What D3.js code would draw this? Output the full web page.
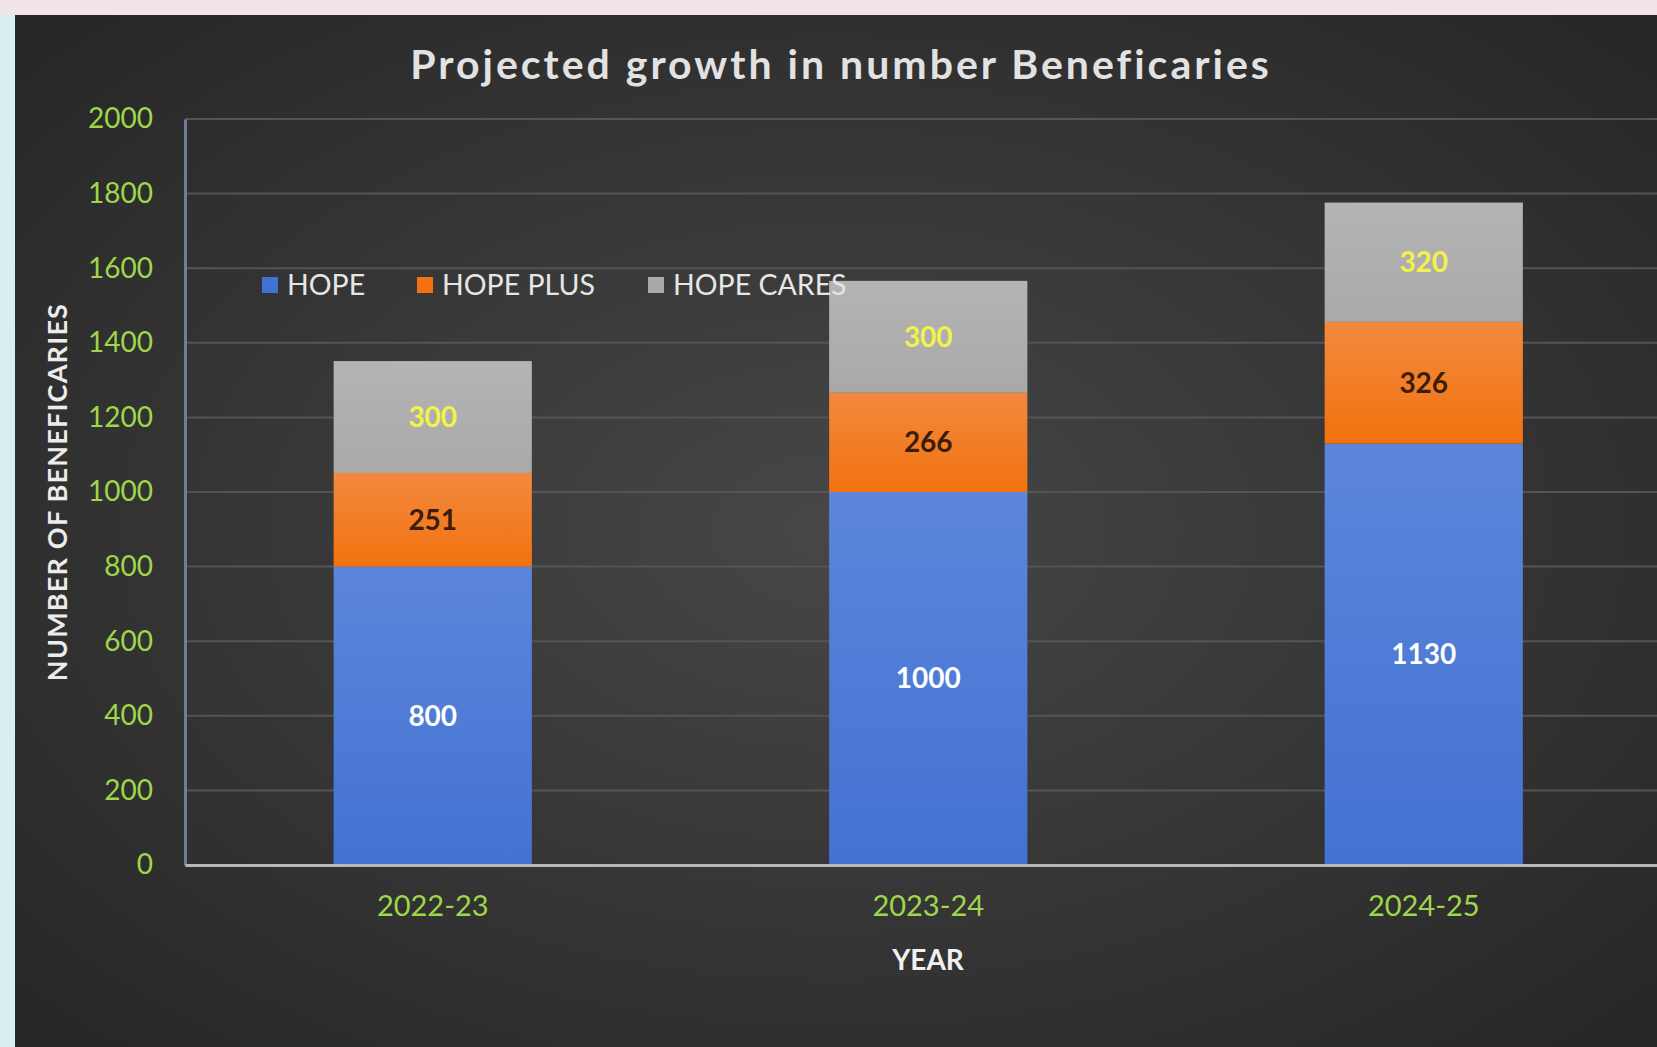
<!DOCTYPE html>
<html>
<head>
<meta charset="utf-8">
<script src="https://cdn.jsdelivr.net/npm/d3@7"></script>
<style>
  html, body { margin: 0; padding: 0; background: #efe6e8; overflow: hidden; }
  svg { display: block; }
</style>
</head>
<body>
<svg id="chart"></svg>
<script>
var years = ["2022-23", "2023-24", "2024-25"];
var seriesNames = ["HOPE", "HOPE PLUS", "HOPE CARES"];
var hope = [800, 1000, 1130];
var hopePlus = [251, 266, 326];
var hopeCares = [300, 300, 320];
var yTicks = [0, 200, 400, 600, 800, 1000, 1200, 1400, 1600, 1800, 2000];

var width = 1657;
var height = 1047;

var svg = d3.select("#chart")
            .attr("width", width)
            .attr("height", height);

var defs = svg.append("defs");

var bg = defs.append("radialGradient").attr("id", "bg")
             .attr("cx", "50%").attr("cy", "50%").attr("r", "70%");
bg.append("stop").attr("offset", "0%").attr("stop-color", "#474747");
bg.append("stop").attr("offset", "100%").attr("stop-color", "#262626");

var colors = ["#4472d4", "#f2720f", "#a9a9a9"];
var tops = ["#5b86da", "#f3893e", "#b4b4b4"];
colors.forEach(function(c, i){
  var g = defs.append("linearGradient").attr("id", "bar" + i)
              .attr("x1", 0).attr("y1", 0).attr("x2", 0).attr("y2", 1);
  g.append("stop").attr("offset", "0%").attr("stop-color", tops[i]);
  g.append("stop").attr("offset", "100%").attr("stop-color", c);
});

// photo border + dark chart area
svg.append("rect").attr("x", 0).attr("y", 0).attr("width", width).attr("height", height)
   .attr("fill", "#f1e4e6");
svg.append("rect").attr("x", 0).attr("y", 15).attr("width", 15).attr("height", height)
   .attr("fill", "#d8eef0");
svg.append("rect").attr("x", 15).attr("y", 15).attr("width", width - 15).attr("height", height - 15)
   .attr("fill", "url(#bg)");

var plotLeft = 185, plotTop = 119, plotBottom = 865;
var step = 495.5;

var xScale = d3.scaleBand()
               .domain(years)
               .range([plotLeft, plotLeft + step * years.length])
               .paddingInner(0.6)
               .paddingOuter(0.3);

var yScale = d3.scaleLinear()
               .domain([0, 2000])
               .range([plotBottom, plotTop]);

// gridlines
svg.append("g").selectAll("line")
   .data(yTicks.slice(1))
   .enter()
   .append("line")
   .attr("x1", plotLeft).attr("x2", width)
   .attr("y1", function(d){ return yScale(d); })
   .attr("y2", function(d){ return yScale(d); })
   .attr("stroke", "#545454")
   .attr("stroke-width", 2);

// y axis
var yAxis = svg.append("g")
               .attr("transform", "translate(" + plotLeft + ",0)")
               .call(d3.axisLeft(yScale).tickValues(yTicks).tickFormat(d3.format("d"))
                       .tickSize(0).tickPadding(32));
yAxis.select(".domain").attr("stroke", "#6d7f96").attr("stroke-width", 3);
yAxis.selectAll("text")
     .attr("fill", "#9fd64a")
     .style("font-family", "Lato")
     .style("font-size", "28px");

// stacked bars
var table = years.map(function(y, i){
  return { year: y, "HOPE": hope[i], "HOPE PLUS": hopePlus[i], "HOPE CARES": hopeCares[i] };
});
var stacked = d3.stack().keys(seriesNames)(table);

var labelColors = ["#ffffff", "#3a1d0a", "#f2f24a"];

var layers = svg.append("g").selectAll("g")
                .data(stacked)
                .enter()
                .append("g")
                .attr("fill", function(d, i){ return "url(#bar" + i + ")"; });

layers.selectAll("rect")
      .data(function(d){ return d; })
      .enter()
      .append("rect")
      .attr("x", function(d){ return xScale(d.data.year); })
      .attr("y", function(d){ return yScale(d[1]); })
      .attr("width", xScale.bandwidth())
      .attr("height", function(d){ return yScale(d[0]) - yScale(d[1]); });

stacked.forEach(function(layer, i){
  svg.append("g").selectAll("text")
     .data(layer)
     .enter()
     .append("text")
     .attr("x", function(d){ return xScale(d.data.year) + xScale.bandwidth() / 2; })
     .attr("y", function(d){ return yScale((d[0] + d[1]) / 2); })
     .attr("dy", "0.35em")
     .attr("text-anchor", "middle")
     .attr("fill", labelColors[i])
     .style("font-family", "Lato")
     .style("font-weight", "bold")
     .style("font-size", "28px")
     .text(function(d){ return d[1] - d[0]; });
});

// x axis
var xAxis = svg.append("g")
               .attr("transform", "translate(0," + plotBottom + ")")
               .call(d3.axisBottom(xScale).tickSize(0).tickPadding(30));
xAxis.select(".domain").attr("stroke", "#b8b8b8").attr("stroke-width", 3);
xAxis.selectAll("text")
     .attr("fill", "#9fd64a")
     .style("font-family", "Lato")
     .style("font-size", "29px");

// legend
var legendX = [262, 417, 648];
var legend = svg.append("g").selectAll("g")
                .data(seriesNames)
                .enter()
                .append("g")
                .attr("transform", function(d, i){ return "translate(" + legendX[i] + ",285)"; });
legend.append("rect")
      .attr("x", 0).attr("y", -8).attr("width", 16).attr("height", 16)
      .attr("fill", function(d, i){ return colors[i]; });
legend.append("text")
      .attr("x", 25).attr("y", 0).attr("dy", "0.35em")
      .attr("fill", "#e6e6e6")
      .style("font-family", "Lato")
      .style("font-size", "28.5px")
      .text(function(d){ return d; });

// titles
svg.append("text")
   .attr("x", 841).attr("y", 65).attr("dy", "0.35em")
   .attr("text-anchor", "middle")
   .attr("fill", "#e2e2e2")
   .style("font-family", "Lato")
   .style("font-weight", "bold")
   .style("font-size", "41px")
   .style("letter-spacing", "3px")
   .text("Projected growth in number Beneficaries");

svg.append("text")
   .attr("transform", "translate(58,492) rotate(-90)")
   .attr("dy", "0.35em")
   .attr("text-anchor", "middle")
   .attr("fill", "#ececec")
   .style("font-family", "Lato")
   .style("font-weight", "bold")
   .style("font-size", "27px")
   .style("letter-spacing", "1.2px")
   .text("NUMBER OF BENEFICARIES");

svg.append("text")
   .attr("x", 928).attr("y", 960).attr("dy", "0.35em")
   .attr("text-anchor", "middle")
   .attr("fill", "#f0f0f0")
   .style("font-family", "Lato")
   .style("font-weight", "bold")
   .style("font-size", "28px")
   .text("YEAR");
</script>
</body>
</html>
